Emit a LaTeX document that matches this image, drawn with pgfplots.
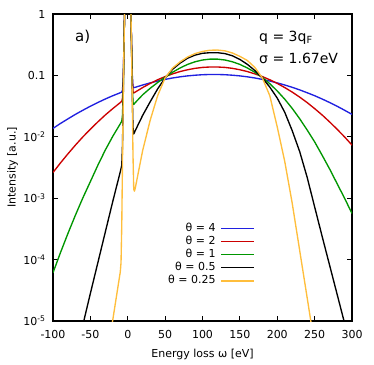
\documentclass[border=0pt]{standalone}
\usepackage{fontspec}
\setmainfont{DejaVu Sans}
\usepackage{pgfplots}
\pgfplotsset{compat=1.18}
\usetikzlibrary{calc}

\definecolor{cblue}{RGB}{32,32,224}
\definecolor{cred}{RGB}{204,0,0}
\definecolor{cgreen}{RGB}{0,150,0}
\definecolor{cyel}{RGB}{255,190,60}

\begin{document}
\begin{tikzpicture}
\begin{axis}[
    name=ax,
    scale only axis,
    width=299bp, height=307bp,
    xmin=-100, xmax=300,
    ymode=log, ymin=1e-5, ymax=1,
    xtick={-100,-50,0,50,100,150,200,250,300},
    xticklabels={-100,-50,0,50,100,150,200,250,300},
    ytick={1e-5,1e-4,1e-3,1e-2,1e-1,1},
    yticklabels={10\textsuperscript{-5},10\textsuperscript{-4},10\textsuperscript{-3},10\textsuperscript{-2},0.1,1},
    yminorticks=false,
    tick align=inside,
    major tick length=5bp,
    tick style={black, line width=1bp},
    axis line style={line width=1.3bp},
    font=\fontsize{11bp}{13bp}\selectfont,
    xticklabel style={yshift=-6bp},
    yticklabel style={xshift=-4bp},
    xlabel={Energy loss ω [eV]},
    ylabel={Intensity [a.u.]},
    every axis x label/.style={at={(axis description cs:0.5,-0.108)}, anchor=center},
    every axis y label/.style={at={(axis description cs:-0.1355,0.5)}, rotate=90, anchor=center},
    legend cell align=right,
    legend plot pos=right,
    legend image code/.code={\draw[#1] (0bp,0bp) -- (33bp,0bp);},
    legend style={at={(rel axis cs:0.676,0.3225)}, anchor=north east, draw=none, fill=none,
        inner sep=0pt, row sep=0.6bp, column sep=4bp,
        nodes={inner sep=1bp, text height=8bp, text depth=2.5bp},
        font=\fontsize{11bp}{13bp}\selectfont},
    every axis plot/.append style={line width=1.35bp, line join=round},
]
% theta = 4
\addplot[cblue] coordinates {
(-100,0.0137) (-90,0.0165) (-80,0.0196) (-70,0.0232) (-60,0.0271) (-50,0.0315)
(-40,0.0362) (-30,0.0413) (-20,0.0467) (-10,0.0522) (-8,0.0536) (-7,0.0581)
(-6,0.0972) (-5,0.361) (-4,1.58) (-3,5.43) (-2,13.2) (-1,22.6) (0,27) (1,22.6)
(2,13.2) (3,5.44) (4,1.59) (5,0.367) (6,0.1042) (7,0.0663) (8,0.0631)
(10,0.0640) (20,0.0698) (30,0.0755) (40,0.0809) (50,0.0861) (60,0.0908)
(70,0.0948) (80,0.0982) (90,0.1007) (100,0.1026) (110,0.1035) (120,0.1035)
(130,0.1026) (140,0.1007) (150,0.0982) (160,0.0948) (170,0.0908) (180,0.0861)
(190,0.0809) (200,0.0755) (210,0.0698) (220,0.0640) (230,0.0581) (240,0.0522)
(250,0.0467) (260,0.0413) (270,0.0362) (280,0.0315) (290,0.0271) (300,0.0232)
};
\addlegendentry{θ = 4}
% theta = 2
\addplot[cred] coordinates {
(-100,0.00262) (-90,0.00376) (-80,0.00528) (-70,0.00733) (-60,0.00998) (-50,0.0133)
(-40,0.0175) (-30,0.0227) (-20,0.0288) (-10,0.0361) (-8,0.0379) (-7,0.0426)
(-6,0.0819) (-5,0.346) (-4,1.57) (-3,5.42) (-2,13.2) (-1,22.6) (0,27) (1,22.6)
(2,13.2) (3,5.43) (4,1.58) (5,0.355) (6,0.0922) (7,0.0547) (8,0.0518)
(10,0.0535) (20,0.0634) (30,0.0740) (40,0.0849) (50,0.0957) (60,0.1059)
(70,0.1156) (80,0.1236) (90,0.1303) (100,0.1349) (110,0.1371) (120,0.1371)
(130,0.1349) (140,0.1303) (150,0.1236) (160,0.1156) (170,0.1059) (180,0.0957)
(190,0.0849) (200,0.0740) (210,0.0634) (220,0.0535) (230,0.0443) (240,0.0361)
(250,0.0288) (260,0.0227) (270,0.0175) (280,0.0133) (290,0.00998) (300,0.00733)
};
\addlegendentry{θ = 2}
% theta = 1
\addplot[cgreen] coordinates {
(-100,6.11e-5) (-90,1.30e-4) (-80,2.67e-4) (-70,5.30e-4) (-60,1.016e-3) (-50,1.866e-3)
(-40,3.44e-3) (-30,6.10e-3) (-20,0.01021) (-10,0.01629) (-8,0.0180) (-7,0.0227)
(-6,0.0620) (-5,0.326) (-4,1.55) (-3,5.40) (-2,13.2) (-1,22.6) (0,27) (1,22.6)
(2,13.2) (3,5.41) (4,1.56) (5,0.336) (6,0.0737) (7,0.0363) (8,0.0337)
(10,0.0360) (20,0.0484) (30,0.0617) (40,0.0766) (50,0.0935) (60,0.1127)
(70,0.1321) (80,0.1510) (90,0.1667) (100,0.1782) (110,0.1841) (120,0.1841)
(130,0.1782) (140,0.1667) (150,0.1510) (160,0.1321) (170,0.1127) (180,0.0927)
(190,0.0733) (200,0.0558) (210,0.0410) (220,0.0290) (230,0.0197) (240,0.01291)
(250,8.28e-3) (260,5.02e-3) (270,3.00e-3) (280,1.734e-3) (290,1.002e-3) (300,5.64e-4)
};
\addlegendentry{θ = 1}
% theta = 0.5
\addplot[black] coordinates {
(-100,5.0e-8) (-90,1.78e-7) (-80,6.3e-7) (-70,2.4e-6) (-60,8.7e-6) (-50,2.82e-5)
(-40,8.91e-5) (-30,2.82e-4) (-20,8.91e-4) (-10,2.69e-3) (-8,3.44e-3) (-7,7.58e-3)
(-6,0.0464) (-5,0.310) (-4,1.53) (-3,5.38) (-2,13.2) (-1,22.6) (0,27) (1,22.6)
(2,13.2) (3,5.39) (4,1.54) (5,0.315) (6,0.0521) (7,0.0142) (8,0.0111)
(10,0.01259) (20,0.0224) (30,0.0372) (40,0.0603) (50,0.0912) (60,0.1259)
(70,0.1585) (80,0.1905) (90,0.2138) (100,0.2291) (110,0.2344) (120,0.2344)
(130,0.2265) (140,0.2089) (150,0.1820) (160,0.1514) (170,0.1202) (180,0.0912)
(190,0.0646) (200,0.0427) (210,0.0251) (220,0.01259) (230,5.75e-3) (240,2.19e-3)
(250,7.24e-4) (260,2.40e-4) (270,8.13e-5) (280,2.75e-5) (290,9.3e-6) (300,3.16e-6)
};
\addlegendentry{θ = 0.5}
% theta = 0.25
\addplot[cyel] coordinates {
(-40,3.2e-7) (-30,2.0e-6) (-20,1.05e-5) (-10,6.3e-5) (-9,8.9e-5) (-8,3.7e-4)
(-7,4.25e-3) (-6,0.0428) (-5,0.306) (-4,1.53) (-3,5.38) (-2,13.2) (-1,22.6) (0,27)
(1,22.6) (2,13.2) (3,5.38) (4,1.53) (5,0.307) (6,0.0435) (7,5.15e-3) (8,1.40e-3)
(9,1.30e-3) (10,1.45e-3) (20,6.03e-3) (30,0.0186) (40,0.0468) (50,0.0912)
(60,0.1318) (70,0.166) (80,0.1995) (90,0.2265) (100,0.2455) (110,0.257)
(120,0.2588) (130,0.2512) (140,0.2317) (150,0.2042) (160,0.175) (170,0.1349)
(180,0.0912) (190,0.0468) (200,0.01445) (210,3.98e-3) (220,8.3e-4) (230,1.41e-4)
(240,2.4e-5) (250,4.0e-6) (260,6.3e-7)
};
\addlegendentry{θ = 0.25}

\node[anchor=base west, inner sep=0pt, font=\fontsize{15bp}{17bp}\selectfont] at (rel axis cs:0.0736,0.909) {a)};
\node[anchor=base west, inner sep=0pt, font=\fontsize{14bp}{16bp}\selectfont] at (rel axis cs:0.689,0.912) {q = 3q\textsubscript{F}};
\node[anchor=base west, inner sep=0pt, font=\fontsize{14bp}{16bp}\selectfont] at (rel axis cs:0.689,0.840) {σ = 1.67eV};
\end{axis}
\pgfresetboundingbox
\path[use as bounding box] ($(ax.south west)+(-53bp,-43bp)$) rectangle ($(ax.north east)+(22bp,14bp)$);
\end{tikzpicture}
\end{document}
